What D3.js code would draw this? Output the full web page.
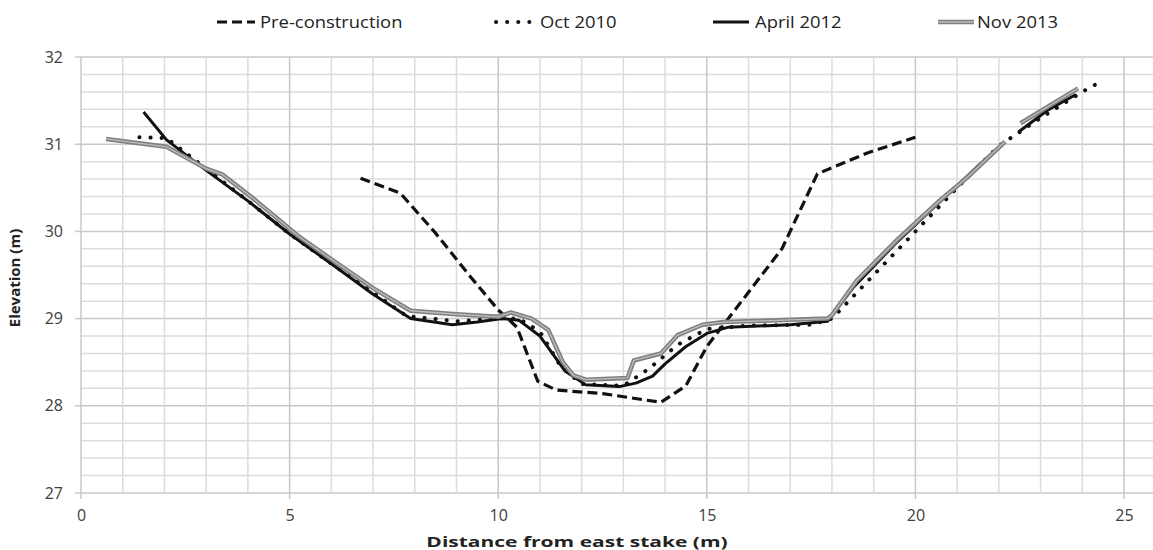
<!DOCTYPE html>
<html><head><meta charset="utf-8">
<script src="https://cdn.jsdelivr.net/npm/d3@7"></script>
<style>html,body{margin:0;padding:0;background:#fff;overflow:hidden}</style>
</head><body><svg id="c" width="1153" height="550"></svg>
<script>
const seriesNames = ["Pre-construction","Oct 2010","April 2012","Nov 2013"];
const xTicks = [0,5,10,15,20,25];
const yTicks = [27,28,29,30,31,32];

const preConstruction = [[6.7,30.61],[7.65,30.44],[8.5,29.98],[9.3,29.5],[10.0,29.1],[10.45,28.9],[10.95,28.28],[11.4,28.18],[12.5,28.14],[13.9,28.04],[14.5,28.23],[15.0,28.68],[16.8,29.8],[17.65,30.66],[18.85,30.9],[20.0,31.08]];
const oct2010 = [[1.4,31.08],[2.05,31.07],[3.0,30.72],[4.0,30.35],[5.0,29.97],[6.0,29.63],[7.0,29.3],[7.8,29.03],[9.0,28.97],[10.0,29.0],[10.5,29.0],[11.0,28.85],[11.5,28.45],[12.0,28.25],[13.0,28.23],[13.6,28.42],[14.3,28.7],[15.0,28.88],[16.0,28.92],[17.5,28.93],[18.0,29.0],[19.0,29.5],[20.0,30.0],[21.0,30.5],[22.0,30.98],[23.0,31.3],[24.0,31.6],[24.3,31.68]];
const april2012 = [[1.5,31.37],[2.05,31.05],[3.0,30.7],[4.0,30.35],[5.0,29.97],[6.0,29.63],[7.0,29.28],[7.9,29.0],[8.9,28.93],[9.5,28.96],[10.1,29.0],[10.5,28.98],[11.0,28.8],[11.6,28.4],[12.1,28.24],[12.9,28.22],[13.3,28.26],[13.7,28.34],[14.0,28.48],[14.5,28.68],[15.0,28.83],[15.5,28.9],[17.0,28.93],[17.9,28.97],[18.5,29.35],[19.5,29.85],[20.5,30.3],[21.5,30.75],[22.1,31.0],[null,null],[22.47,31.14],[23.2,31.4],[23.85,31.57]];
const nov2013 = [[0.6,31.06],[2.05,30.97],[3.0,30.72],[3.4,30.65],[4.2,30.35],[5.2,29.95],[6.0,29.68],[7.0,29.35],[7.9,29.09],[9.0,29.05],[10.0,29.02],[10.3,29.07],[10.8,29.0],[11.2,28.87],[11.55,28.5],[11.8,28.35],[12.1,28.3],[13.1,28.32],[13.25,28.52],[13.9,28.6],[14.3,28.81],[14.9,28.93],[15.4,28.96],[17.9,29.0],[18.0,29.04],[18.6,29.44],[19.6,29.92],[20.6,30.36],[21.2,30.6],[22.15,31.03],[null,null],[22.52,31.24],[23.9,31.64]];

const svg = d3.select("#c");
const font = "'Open Sans', sans-serif";
const x = d3.scaleLinear().domain([0,26]).range([81, 81+26*41.72]);
const y = d3.scaleLinear().domain([27,32]).range([493,57]);

// gridlines
const g = svg.append("g");
const xMinor = d3.range(0,27,1);
const yMinor = d3.range(0,26).map(i => 27 + i*0.2);
g.selectAll(".hy").data(yMinor).join("line")
  .attr("x1", x(0)).attr("x2", x(26))
  .attr("y1", d=>y(d)).attr("y2", d=>y(d))
  .attr("stroke", d => Math.abs(d-Math.round(d))<1e-6 ? "#c8c8c8" : "#dcdcdc").attr("stroke-width", 1.5);
g.selectAll(".vx").data(xMinor).join("line")
  .attr("x1", d=>x(d)).attr("x2", d=>x(d))
  .attr("y1", y(32)).attr("y2", d => d%5===0 ? y(27)+6 : y(27))
  .attr("stroke", d => d%5===0 ? "#c8c8c8" : "#dcdcdc").attr("stroke-width", 1.5);
g.selectAll(".yt").data(yTicks).join("line")
  .attr("x1", x(0)-6).attr("x2", x(0)).attr("y1", d=>y(d)).attr("y2", d=>y(d))
  .attr("stroke","#c8c8c8").attr("stroke-width",1.5);

const xAxis = svg.append("g").attr("transform", `translate(0,${y(27)})`)
  .call(d3.axisBottom(x).tickValues(xTicks).tickSize(0).tickPadding(17).tickFormat(d3.format("d")));
xAxis.select(".domain").remove();
xAxis.selectAll("text").attr("font-family", font).attr("font-size", 16).attr("fill", "#404040");
const yAxis = svg.append("g").attr("transform", `translate(${x(0)},0)`)
  .call(d3.axisLeft(y).tickValues(yTicks).tickSize(0).tickPadding(18).tickFormat(d3.format("d")));
yAxis.select(".domain").remove();
yAxis.selectAll("text").attr("font-family", font).attr("font-size", 16).attr("fill", "#404040");

svg.append("text").attr("transform", "translate(577,547) scale(1.4,1)").attr("text-anchor","middle")
  .attr("font-family", font).attr("font-weight","bold").attr("font-size", 15).attr("fill","#222")
  .text("Distance from east stake (m)");
svg.append("text").attr("transform", `translate(20,278) rotate(-90)`).attr("text-anchor","middle")
  .attr("font-family", font).attr("font-weight","bold").attr("font-size", 15).attr("fill","#222")
  .text("Elevation (m)");

const line = d3.line().defined(d => d[0] !== null).x(d=>x(d[0])).y(d=>y(d[1]));

const styles = [
  {data: preConstruction, layers:[{stroke:"#111", w:3.2, dash:"10,5", cap:"butt"}]},
  {data: oct2010, layers:[{stroke:"#111", w:4, dash:"0.1,11", cap:"round"}]},
  {data: april2012, layers:[{stroke:"#111", w:3, dash:null, cap:"butt"}]},
  {data: nov2013, layers:[{stroke:"#808080", w:4.5, dash:null, cap:"butt"},{stroke:"#bdbdbd", w:1.3, dash:null, cap:"butt"}]}
];
const pg = svg.append("g");
styles.forEach(s => {
  s.layers.forEach(l => {
    pg.append("path").datum(s.data).attr("d", line).attr("fill","none")
      .attr("stroke", l.stroke).attr("stroke-width", l.w)
      .attr("stroke-dasharray", l.dash).attr("stroke-linecap", l.cap).attr("stroke-linejoin","round");
  });
});

// legend
const legX = [217, 496, 713, 938];
const legTextX = [260, 540, 755, 977];
const legY = 22;
styles.forEach((s,i) => {
  const lg = svg.append("g");
  const len = i===0 ? 38 : 36;
  s.layers.forEach(l => {
    lg.append("line").attr("x1", legX[i]).attr("x2", legX[i]+len).attr("y1", legY).attr("y2", legY)
      .attr("stroke", l.stroke).attr("stroke-width", l.w).attr("stroke-dasharray", l.dash).attr("stroke-linecap", l.cap);
  });
  lg.append("text").attr("transform", `translate(${legTextX[i]},${legY}) scale(1.15,1)`).attr("dy","0.35em")
    .attr("font-family", font).attr("font-size", 16).attr("fill","#222").text(seriesNames[i]);
});
</script></body></html>
